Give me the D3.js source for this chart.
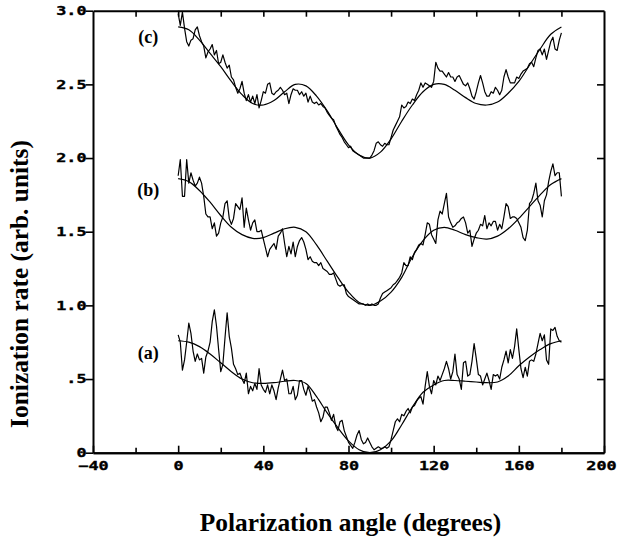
<!DOCTYPE html>
<html>
<head>
<meta charset="utf-8">
<script src="https://cdn.jsdelivr.net/npm/d3@7"></script>
<style>
  body { margin: 0; background: #fff; }
  .axis .tick text { font-family: "DejaVu Sans Mono", monospace; font-weight: bold; font-size: 12px; fill: #000; stroke: #000; stroke-width: 0.35px; }
  .axis path.domain { stroke: #000; stroke-width: 2px; }
  .axis .tick line { stroke: #000; stroke-width: 1.6px; }
  .title { font-family: "Liberation Serif", "Times New Roman", serif; font-weight: bold; fill: #000; }
</style>
</head>
<body>
<div id="chart"></div>
<script>
const angles = d3.range(0, 181, 1);
const fitAngles = d3.range(0, 181, 5);

const dataA = [
  0.80, 0.75, 0.56, 0.63, 0.75, 0.88, 0.81, 0.69, 0.62, 0.67,
  0.63, 0.64, 0.54, 0.65, 0.69, 0.75, 0.89, 0.97, 0.86, 0.70,
  0.55, 0.60, 0.78, 0.95, 0.79, 0.71, 0.60, 0.57, 0.53, 0.54,
  0.50, 0.47, 0.54, 0.40, 0.45, 0.42, 0.47, 0.43, 0.57, 0.46,
  0.43, 0.41, 0.46, 0.40, 0.46, 0.42, 0.36, 0.44, 0.50, 0.56,
  0.49, 0.50, 0.40, 0.40, 0.45, 0.36, 0.39, 0.49, 0.49, 0.43,
  0.39, 0.45, 0.41, 0.35, 0.36, 0.31, 0.27, 0.21, 0.24, 0.31,
  0.31, 0.27, 0.22, 0.26, 0.18, 0.15, 0.21, 0.22, 0.15, 0.11,
  0.07, 0.05, 0.03, 0.07, 0.12, 0.15, 0.09, 0.06, 0.07, 0.10,
  0.07,
  0.04, 0.02, 0.03, 0.04, 0.03, 0.03, 0.04, 0.03, 0.04, 0.09,
  0.15, 0.21, 0.23, 0.21, 0.26, 0.25, 0.28, 0.30, 0.27, 0.31,
  0.32, 0.35, 0.37, 0.38, 0.33, 0.45, 0.55, 0.45, 0.40, 0.49,
  0.46, 0.52, 0.49, 0.53, 0.57, 0.62, 0.57, 0.50, 0.55, 0.67,
  0.53, 0.50, 0.43, 0.61, 0.62, 0.52, 0.53, 0.62, 0.74, 0.64,
  0.53, 0.52, 0.46, 0.50, 0.54, 0.49, 0.43, 0.53, 0.52, 0.53,
  0.50, 0.58, 0.63, 0.69, 0.61, 0.70, 0.64, 0.72, 0.84, 0.70,
  0.57, 0.51, 0.58, 0.52, 0.62, 0.63, 0.62, 0.67, 0.74, 0.81,
  0.76, 0.80, 0.63, 0.60, 0.84, 0.83, 0.85, 0.79, 0.76, 0.75
];
const dataB = [
  1.88, 1.99, 1.74, 1.74, 1.99, 1.83, 1.90, 1.85, 1.81, 1.83,
  1.87, 1.83, 1.74, 1.62, 1.60, 1.60, 1.52, 1.56, 1.47, 1.49,
  1.56, 1.60, 1.69, 1.71, 1.59, 1.55, 1.59, 1.69, 1.67, 1.65,
  1.73, 1.53, 1.66, 1.58, 1.51, 1.56, 1.58, 1.50, 1.50, 1.51,
  1.45, 1.39, 1.33, 1.38, 1.40, 1.42, 1.38, 1.47, 1.49, 1.52,
  1.42, 1.33, 1.40, 1.35, 1.43, 1.33, 1.40, 1.44, 1.46, 1.43,
  1.38, 1.31, 1.33, 1.30, 1.29, 1.29, 1.27, 1.29, 1.25, 1.24,
  1.23, 1.21, 1.21, 1.22, 1.18, 1.14, 1.13, 1.14, 1.14, 1.08,
  1.06, 1.05, 1.04, 1.03, 1.02, 1.01, 1.01, 1.01, 1.00, 1.01,
  1.00,
  1.01, 1.00, 1.00, 1.01, 1.05, 1.08, 1.09, 1.10, 1.11, 1.12,
  1.14, 1.15, 1.17, 1.19, 1.22, 1.29, 1.27, 1.27, 1.33, 1.31,
  1.36, 1.38, 1.41, 1.42, 1.41, 1.48, 1.56, 1.55, 1.48, 1.45,
  1.42, 1.58, 1.64, 1.62, 1.69, 1.76, 1.60, 1.56, 1.53, 1.54,
  1.56, 1.57, 1.59, 1.60, 1.56, 1.49, 1.51, 1.40, 1.45, 1.49,
  1.51, 1.55, 1.54, 1.61, 1.52, 1.56, 1.54, 1.57, 1.57, 1.51,
  1.55, 1.52, 1.60, 1.69, 1.67, 1.59, 1.60, 1.60, 1.59, 1.56,
  1.53, 1.46, 1.44, 1.51, 1.69, 1.71, 1.76, 1.83, 1.71, 1.68,
  1.60, 1.71, 1.75, 1.84, 1.91, 1.96, 1.88, 1.90, 1.90, 1.74
];
const dataC = [
  2.98, 2.90, 2.99, 2.88, 2.79, 2.76, 2.80, 2.81, 2.87, 2.89,
  2.83, 2.79, 2.76, 2.68, 2.72, 2.74, 2.77, 2.70, 2.73, 2.64,
  2.65, 2.70, 2.65, 2.61, 2.63, 2.55, 2.53, 2.48, 2.44, 2.47,
  2.52, 2.44, 2.39, 2.43, 2.38, 2.42, 2.37, 2.43, 2.34, 2.39,
  2.45, 2.44, 2.50, 2.51, 2.44, 2.43, 2.45, 2.46, 2.48, 2.46,
  2.43, 2.44, 2.37, 2.43, 2.47, 2.46, 2.46, 2.43, 2.45, 2.42,
  2.44, 2.38, 2.42, 2.38, 2.37, 2.38, 2.36, 2.37, 2.35, 2.34,
  2.31, 2.29, 2.27, 2.26, 2.22, 2.19, 2.16, 2.14, 2.11, 2.09,
  2.07, 2.08, 2.05, 2.04, 2.03, 2.02, 2.01, 2.00, 2.00, 2.00,
  2.00,
  2.02, 2.05, 2.10, 2.11, 2.09, 2.08, 2.10, 2.09, 2.09, 2.14,
  2.19, 2.22, 2.25, 2.28, 2.36, 2.34, 2.35, 2.38, 2.37, 2.40,
  2.39, 2.43, 2.46, 2.51, 2.48, 2.51, 2.50, 2.49, 2.48, 2.52,
  2.65, 2.61, 2.59, 2.59, 2.57, 2.55, 2.58, 2.55, 2.55, 2.52,
  2.55, 2.56, 2.53, 2.50, 2.49, 2.51, 2.47, 2.42, 2.40, 2.45,
  2.51, 2.56, 2.51, 2.45, 2.42, 2.42, 2.45, 2.44, 2.48, 2.46,
  2.43, 2.46, 2.55, 2.60, 2.55, 2.51, 2.51, 2.51, 2.55, 2.54,
  2.57, 2.59, 2.60, 2.61, 2.64, 2.65, 2.62, 2.68, 2.73, 2.74,
  2.70, 2.74, 2.67, 2.73, 2.79, 2.82, 2.74, 2.73, 2.80, 2.85
];

// smooth fitted curves
const fitA = [
  0.76, 0.75, 0.72, 0.67, 0.61, 0.55, 0.50, 0.475, 0.47, 0.475,
  0.485, 0.49, 0.47, 0.38, 0.27, 0.17, 0.08, 0.02, 0.00, 0.02,
  0.08, 0.19, 0.31, 0.41, 0.46, 0.49, 0.49, 0.485, 0.48, 0.475,
  0.48, 0.52, 0.59, 0.65, 0.70, 0.74, 0.76
];
const fitB = [
  1.86, 1.84, 1.78, 1.70, 1.61, 1.53, 1.48, 1.455, 1.46, 1.49,
  1.52, 1.53, 1.50, 1.41, 1.30, 1.19, 1.09, 1.02, 1.00, 1.03,
  1.09, 1.19, 1.33, 1.44, 1.51, 1.53, 1.51, 1.48, 1.46, 1.45,
  1.47, 1.52, 1.59, 1.67, 1.75, 1.82, 1.86
];
const fitC = [
  2.89, 2.87, 2.80, 2.71, 2.62, 2.52, 2.43, 2.37, 2.36, 2.39,
  2.45, 2.50, 2.49, 2.42, 2.32, 2.20, 2.09, 2.02, 2.00, 2.04,
  2.13, 2.25, 2.36, 2.45, 2.50, 2.50, 2.46, 2.41, 2.37, 2.36,
  2.38, 2.44, 2.52, 2.63, 2.74, 2.84, 2.89
];

const seriesNames = ["(a)", "(b)", "(c)"];
const nameAngle = -14;
const nameRate = [0.636, 1.743, 2.78];

const xMajor = [-40, 0, 40, 80, 120, 160, 200];
const xMajorLabels = ["\u221240", "0", "40", "80", "120", "160", "200"];
const xMinor = [-20, 20, 60, 100, 140, 180];
const yTicks = [0, 0.5, 1.0, 1.5, 2.0, 2.5, 3.0];
const yTickLabels = ["0", ".5", "1.0", "1.5", "2.0", "2.5", "3.0"];

// sizing
const width = 618, height = 540;
const margin = {top: 10.7, right: 14, bottom: 87.3, left: 93};
const sx = 1.4; // stretch of the plotter-style digits

const svg = d3.select("#chart").append("svg")
  .attr("width", width)
  .attr("height", height);

const xScale = d3.scaleLinear()
  .domain([-40, 200])
  .range([margin.left, width - margin.right]);

const yScale = d3.scaleLinear()
  .domain([0, 3])
  .range([height - margin.bottom, margin.top]);

svg.append("defs").append("clipPath").attr("id", "plot-clip")
  .append("rect")
  .attr("x", margin.left).attr("y", margin.top)
  .attr("width", width - margin.left - margin.right)
  .attr("height", height - margin.top - margin.bottom);

// curves
const dataLine = d3.line()
  .x((d, i) => xScale(angles[i]))
  .y(d => yScale(d));

const fitLine = d3.line()
  .x((d, i) => xScale(fitAngles[i]))
  .y(d => yScale(d))
  .curve(d3.curveCatmullRom.alpha(0.5));

const plot = svg.append("g").attr("clip-path", "url(#plot-clip)");

[dataA, dataB, dataC].forEach(s => {
  plot.append("path")
    .attr("d", dataLine(s))
    .attr("fill", "none")
    .attr("stroke", "#000")
    .attr("stroke-width", 1.2)
    .attr("stroke-linejoin", "round");
});

[fitA, fitB, fitC].forEach(s => {
  plot.append("path")
    .attr("d", fitLine(s))
    .attr("fill", "none")
    .attr("stroke", "#000")
    .attr("stroke-width", 1.2);
});

// axes
const yBottom = height - margin.bottom;
const xRight = width - margin.right;

svg.append("g")
  .attr("class", "axis")
  .attr("transform", `translate(0,${yBottom})`)
  .call(d3.axisBottom(xScale).tickValues(xMinor).tickSize(-5).tickSizeOuter(0).tickFormat(""));

const xAxis = svg.append("g")
  .attr("class", "axis")
  .attr("transform", `translate(0,${yBottom})`)
  .call(d3.axisBottom(xScale)
    .tickValues(xMajor)
    .tickSize(-7)
    .tickSizeOuter(0)
    .tickPadding(9)
    .tickFormat((d, i) => xMajorLabels[i]));
xAxis.selectAll(".tick text")
  .attr("x", d => d === 200 ? -3 / sx : 0)
  .attr("transform", `scale(${sx},1)`);

svg.append("g")
  .attr("class", "axis")
  .attr("transform", `translate(0,${margin.top})`)
  .call(d3.axisTop(xScale).tickValues(xMinor.concat(xMajor.slice(1, -1))).tickSize(-6).tickSizeOuter(0).tickFormat(""));

const yAxis = svg.append("g")
  .attr("class", "axis")
  .attr("transform", `translate(${margin.left},0)`)
  .call(d3.axisLeft(yScale)
    .tickValues(yTicks)
    .tickSize(7.5)
    .tickSizeOuter(0)
    .tickFormat((d, i) => yTickLabels[i]));
yAxis.selectAll(".tick text")
  .attr("x", -6.5 / sx)
  .attr("transform", `scale(${sx},1)`);

svg.append("g")
  .attr("class", "axis")
  .attr("transform", `translate(${xRight},0)`)
  .call(d3.axisRight(yScale).tickValues(yTicks.slice(1, -1)).tickSize(-7).tickSizeOuter(0).tickFormat(""));

// curve names
svg.selectAll(".series-name")
  .data(seriesNames)
  .enter().append("text")
  .attr("class", "title series-name")
  .attr("x", xScale(nameAngle))
  .attr("y", (d, i) => yScale(nameRate[i]))
  .attr("text-anchor", "middle")
  .style("font-size", "18px")
  .text(d => d);

// axis titles
svg.append("text")
  .attr("class", "title")
  .attr("x", (margin.left + xRight) / 2 + 2)
  .attr("y", 531)
  .attr("text-anchor", "middle")
  .style("font-size", "25.4px")
  .text("Polarization angle (degrees)");

svg.append("text")
  .attr("class", "title")
  .attr("transform", "translate(28,284) rotate(-90)")
  .attr("text-anchor", "middle")
  .style("font-size", "25.4px")
  .text("Ionization rate (arb. units)");
</script>
</body>
</html>
